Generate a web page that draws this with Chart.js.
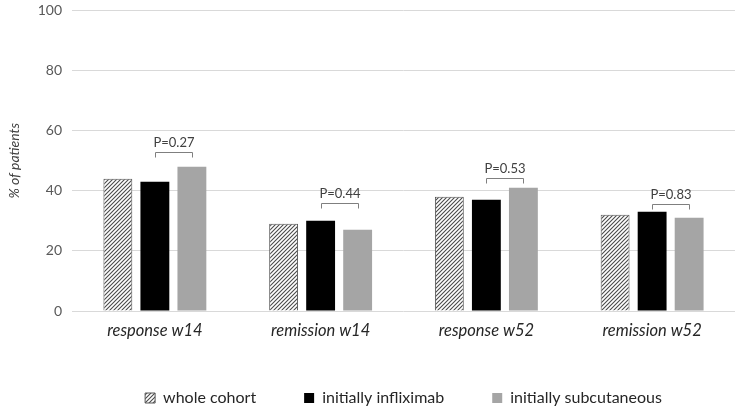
<!DOCTYPE html>
<html>
<head>
<meta charset="utf-8">
<script src="https://cdn.jsdelivr.net/npm/chart.js@4/dist/chart.umd.min.js"></script>
<style>
  html, body { margin: 0; padding: 0; background: #ffffff; }
  #wrap { width: 743px; height: 410px; }
</style>
</head>
<body>
<div id="wrap"><canvas id="c"></canvas></div>
<script>
const categories = ['response w14', 'remission w14', 'response w52', 'remission w52'];
const wholeCohort = [44, 29, 38, 32];
const initiallyInfliximab = [43, 30, 37, 33];
const initiallySubcutaneous = [48, 27, 41, 31];
const pValueLabels = ['P=0.27', 'P=0.44', 'P=0.53', 'P=0.83'];
const pBracketLevel = [52.8, 35.9, 44.2, 35.6];
const yTicks = [0, 20, 40, 60, 80, 100];

function makeHatch() {
  const s = 4;
  const cv = document.createElement('canvas');
  cv.width = s; cv.height = s;
  const g = cv.getContext('2d');
  g.fillStyle = '#ffffff';
  g.fillRect(0, 0, s, s);
  g.strokeStyle = '#4a4a4a';
  g.lineWidth = 1.1;
  g.beginPath();
  g.moveTo(-1, s + 1); g.lineTo(s + 1, -1);
  g.moveTo(-1, 1); g.lineTo(1, -1);
  g.moveTo(s - 1, s + 1); g.lineTo(s + 1, s - 1);
  g.stroke();
  return document.getElementById('c').getContext('2d').createPattern(cv, 'repeat');
}

const FONT = 'Lato, "Noto Sans", sans-serif';

const pValuePlugin = {
  id: 'pValues',
  afterDatasetsDraw(chart) {
    const ctx = chart.ctx;
    const y = chart.scales.y;
    const m1 = chart.getDatasetMeta(1).data;
    const m2 = chart.getDatasetMeta(2).data;
    ctx.save();
    ctx.strokeStyle = '#7f7f7f';
    ctx.lineWidth = 1;
    ctx.fillStyle = '#404040';
    ctx.font = '13px ' + FONT;
    ctx.textAlign = 'center';
    ctx.textBaseline = 'middle';
    categories.forEach((c, i) => {
      const x1 = Math.round(m1[i].x) + 0.5;
      const x2 = Math.round(m2[i].x) + 0.5;
      const yy = Math.round(y.getPixelForValue(pBracketLevel[i])) + 0.5;
      ctx.beginPath();
      ctx.moveTo(x1, yy + 5);
      ctx.lineTo(x1, yy);
      ctx.lineTo(x2, yy);
      ctx.lineTo(x2, yy + 5);
      ctx.stroke();
      ctx.fillText(pValueLabels[i], (x1 + x2) / 2, yy - 10);
    });
    ctx.restore();
  }
};

const hatch = makeHatch();

new Chart(document.getElementById('c'), {
  type: 'bar',
  data: {
    labels: categories,
    datasets: [
      { label: 'whole cohort', data: wholeCohort, backgroundColor: hatch, borderColor: '#595959', borderWidth: 1 },
      { label: 'initially infliximab', data: initiallyInfliximab, backgroundColor: '#000000', borderColor: '#000000', borderWidth: 0 },
      { label: 'initially subcutaneous', data: initiallySubcutaneous, backgroundColor: '#a5a5a5', borderColor: '#a5a5a5', borderWidth: 0 }
    ]
  },
  options: {
    responsive: true,
    maintainAspectRatio: false,
    animation: false,
    devicePixelRatio: 1,
    categoryPercentage: 0.67,
    barPercentage: 0.78,
    layout: { padding: { top: 2, right: 8, bottom: 0, left: 2 } },
    plugins: {
      tooltip: { enabled: false },
      legend: {
        position: 'bottom',
        fullSize: false,
        maxHeight: 68,
        labels: {
          boxWidth: 10,
          boxHeight: 10,
          padding: 48,
          color: '#262626',
          font: { family: FONT, size: 16 }
        }
      }
    },
    scales: {
      x: {
        grid: { display: false, drawTicks: false },
        border: { display: false },
        ticks: { color: '#262626', padding: 10, font: { family: FONT, size: 16.5, style: 'italic' } },
        afterFit(scale) { scale.height = 31; }
      },
      y: {
        min: 0, max: 100,
        afterBuildTicks(scale) { scale.ticks = yTicks.map(v => ({ value: v })); },
        grid: { color: '#d9d9d9', drawTicks: true, tickLength: 8, tickColor: 'rgba(0,0,0,0)' },
        border: { display: false },
        ticks: { color: '#595959', padding: 2, font: { family: FONT, size: 14 } },
        title: { display: true, text: '% of patients', color: '#404040', font: { family: FONT, size: 14, style: 'italic' }, padding: { top: 4, bottom: 4 } },
        afterFit(scale) { scale.width = 70; }
      }
    }
  },
  plugins: [pValuePlugin]
});
</script>
</body>
</html>
